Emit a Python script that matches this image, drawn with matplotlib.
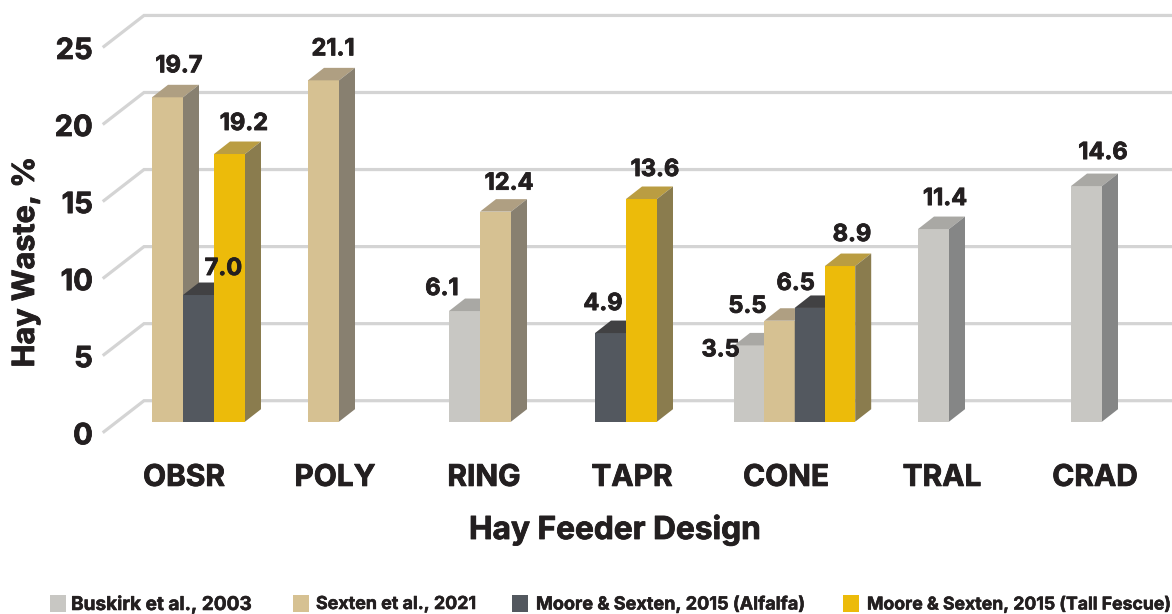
import matplotlib.pyplot as plt
import matplotlib.patheffects as pe
from matplotlib.patches import Rectangle
from matplotlib.transforms import ScaledTranslation

categories = ['OBSR', 'POLY', 'RING', 'TAPR', 'CONE', 'TRAL', 'CRAD']
y_ticks = [0, 5, 10, 15, 20, 25]
series_names = ['Buskirk et al., 2003', 'Sexten et al., 2021',
                'Moore & Sexten, 2015 (Alfalfa)', 'Moore & Sexten, 2015 (Tall Fescue)']

# printed value labels
buskirk_labels = [None, None, 6.1, None, 3.5, 11.4, 14.6]
sexten_labels = [19.7, 21.1, 12.4, None, 5.5, None, None]
alfalfa_labels = [7.0, None, None, 4.9, 6.5, None, None]
fescue_labels = [19.2, None, None, 13.6, 8.9, None, None]

# bar tops as they are drawn against the left axis (they do not follow the labels exactly)
buskirk_tops = [None, None, 7.83, None, 5.6, 13.15, 15.94]
sexten_tops = [21.7, 22.8, 14.28, None, 7.2, None, None]
alfalfa_tops = [8.87, None, None, 6.4, 8.03, None, None]
fescue_tops = [18.02, None, None, 15.1, 10.75, None, None]

all_labels = [buskirk_labels, sexten_labels, alfalfa_labels, fescue_labels]
all_tops = [buskirk_tops, sexten_tops, alfalfa_tops, fescue_tops]

# colours: front, top, side
bar_colors = [('#C8C7C3', '#A9A8A4', '#858686'),
              ('#D6C192', '#AF9F82', '#888070'),
              ('#53585F', '#414143', '#414143'),
              ('#ECBB0A', '#BA9D42', '#8A7C4E')]
grid_color = '#D4D4D4'
text_color = '#231F20'
font = 'Inter'

# layout, x axis runs in figure pixels
W, H = 1172, 614
px_per_unit = 15.41
axis_zero_y = 431.7
axes_bottom_y = 450
axes_left_x = 104
wall_x = 144
wall_up = 31 / px_per_unit
depth_x = 16
depth_y = 12.5 / px_per_unit
floor = 0.65
group_left = [152, 308, 449, 595, 734, 918, 1071]
group_bar_w = [31, 31, 31, 31, 30.3, 31, 31]
label_centers = [184, 335, 484, 632, 786, 942, 1095]

# label offset from the top centre of the bar, pixels: (series, category) -> dx, dy
label_offsets = {
    (1, 0): (11.5, 31), (1, 1): (9.5, 31), (3, 0): (14.4, 30), (2, 0): (25, 26),
    (0, 2): (-22.5, 22), (1, 2): (13.5, 28), (2, 3): (-7.5, 29), (3, 3): (13.5, 29),
    (0, 4): (-28.5, -5), (1, 4): (-32, 14), (2, 4): (-14, 24), (3, 4): (12, 31),
    (0, 5): (11.5, 30), (0, 6): (16.5, 33),
}

plt.rcParams['font.family'] = [font, 'DejaVu Sans']
plt.rcParams['font.weight'] = 'bold'


def heavier(text, lw=0.6):
    # the original type is a heavier bold than Inter Bold
    text.set_path_effects([pe.withStroke(linewidth=lw, foreground=text_color)])


fig = plt.figure(figsize=(W / 100, H / 100), dpi=100)
ax = fig.add_axes([axes_left_x / W, 1 - axes_bottom_y / H, 1 - axes_left_x / W, axes_bottom_y / H])
ax.set_xlim(axes_left_x, W)
ax.set_ylim((axis_zero_y - axes_bottom_y) / px_per_unit, axis_zero_y / px_per_unit)
for s in ax.spines.values():
    s.set_visible(False)

# back wall and the short diagonals on the left
for t in y_ticks:
    ax.plot([axes_left_x, wall_x, W], [t, t + wall_up, t + wall_up], color=grid_color, lw=2.3,
            solid_joinstyle='miter', zorder=1, clip_on=False)

# bars, left to right so that each one covers the side of the one before
for c in range(len(categories)):
    x = group_left[c]
    w = group_bar_w[c]
    for s in range(len(all_tops)):
        top = all_tops[s][c]
        if top is None:
            continue
        front, lid, side = bar_colors[s]
        ax.fill([x, x + w, x + w, x], [floor, floor, top, top], color=front, lw=0, zorder=3)
        ax.fill([x, x + w, x + w + depth_x, x + depth_x],
                [top, top, top + depth_y, top + depth_y], color=lid, lw=0, zorder=3)
        ax.fill([x + w, x + w + depth_x, x + w + depth_x, x + w],
                [floor, floor + depth_y, top + depth_y, top], color=side, lw=0, zorder=3)
        dx, dy = label_offsets[(s, c)]
        lab = ax.annotate('%.1f' % all_labels[s][c], (x + w / 2, top), xytext=(dx, dy),
                          textcoords='offset pixels', ha='center', va='center',
                          fontsize=17, color=text_color, zorder=5)
        heavier(lab)
        x += w

ax.set_yticks(y_ticks)
ax.set_xticks(label_centers)
ax.set_xticklabels(categories)
ax.tick_params(axis='y', length=0, pad=8, labelsize=21, labelcolor=text_color)
ax.tick_params(axis='x', length=0, pad=10, labelsize=21.5, labelcolor=text_color)
nudge_down = ScaledTranslation(0, -2 / 100, fig.dpi_scale_trans)
for lab in ax.get_yticklabels():
    lab.set_transform(lab.get_transform() + nudge_down)
for lab in ax.get_xticklabels() + ax.get_yticklabels():
    heavier(lab)

ax.set_xlabel('Hay Feeder Design', fontsize=22.8, fontweight='bold', color=text_color)
ax.xaxis.set_label_coords((615 - axes_left_x) / (W - axes_left_x), -(530 - axes_bottom_y) / axes_bottom_y,
                          transform=ax.transAxes)
ax.xaxis.label.set_va('center')
ax.set_ylabel('Hay Waste, %', fontsize=22, fontweight='bold', color=text_color)
ax.yaxis.set_label_coords((26 - axes_left_x) / (W - axes_left_x), 1 - 262 / axes_bottom_y,
                          transform=ax.transAxes)
ax.yaxis.label.set_va('center')
heavier(ax.xaxis.label)
heavier(ax.yaxis.label)

# legend along the bottom
swatch_x = [50, 293, 512, 843]
text_x = [71, 316, 536, 867]
legend_sizes = [13.7, 12.85, 13.0, 12.7]
for i in range(len(series_names)):
    fig.add_artist(Rectangle((swatch_x[i] / W, 1 - 612 / H), 16 / W, 17 / H, transform=fig.transFigure,
                             color=bar_colors[i][0], lw=0))
    leg = fig.text(text_x[i] / W, 1 - 604.5 / H, series_names[i], fontsize=legend_sizes[i], color=text_color,
                   ha='left', va='center')
    heavier(leg, 0.4)

fig.savefig('out.png', dpi=100)
